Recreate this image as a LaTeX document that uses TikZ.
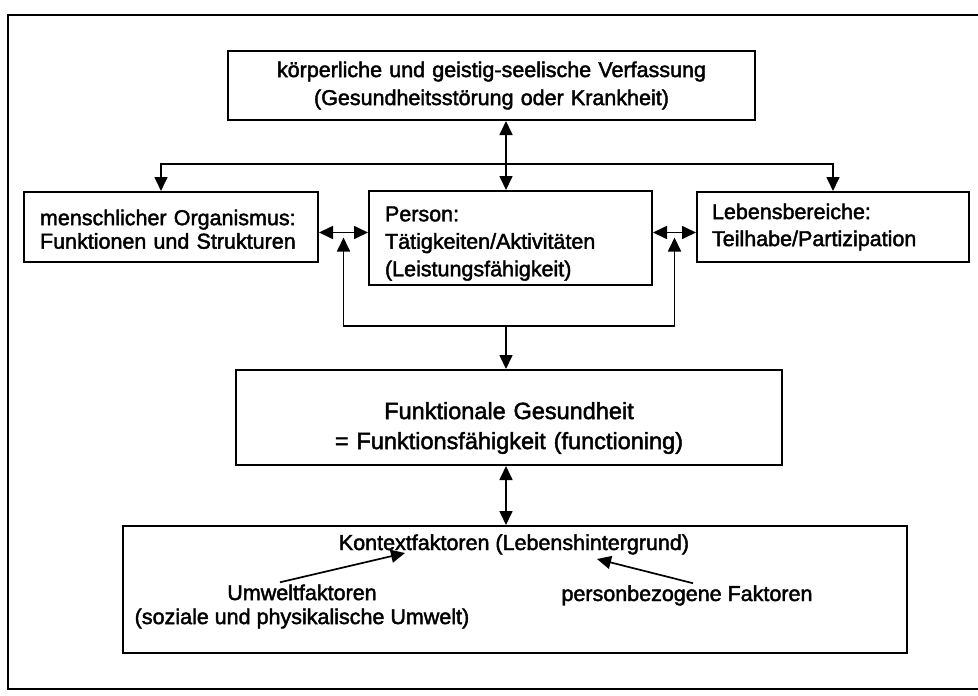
\documentclass[tikz,border=0pt]{standalone}
\usepackage{fontspec}
\setmainfont{Liberation Sans}[FakeBold=2]
\usetikzlibrary{arrows.meta, positioning, calc}
\tikzset{
    sidebox/.style={rectangle, draw=black, line width=2pt, align=left, inner xsep=16pt, minimum height=70pt, font=\fontsize{21.5}{25}\selectfont},
    mainbox/.style={rectangle, draw=black, line width=2pt, align=center, inner xsep=16pt, font=\fontsize{21.5}{28}\selectfont},
    plaintext/.style={inner sep=2pt, font=\fontsize{21.5}{24}\selectfont}
}

\begin{document}
\begin{tikzpicture}[x=1pt, y=-1pt,
  twoway/.style={{Triangle[length=14pt, width=13pt]}-{Triangle[length=14pt, width=13pt]}, line width=1.7pt},
  oneway/.style={-{Triangle[length=14pt, width=13pt]}, line width=1.7pt}]
  \useasboundingbox (0,0) rectangle (978,696);
  \draw[line width=2pt] (8,15) rectangle (992,689);
  \node[sidebox, text width=251pt, minimum height=94pt, font=\fontsize{21.5}{27.5}\selectfont] (person) at (510.5,238) {\rule{0pt}{26pt}Person:\\Tätigkeiten/Aktivitäten\\(Leistungsfähigkeit)};
  \node[sidebox, text width=262pt, font=\fontsize{21.5}{23.5}\selectfont, left=49pt of person, yshift=11pt] (organ) {\rule{0pt}{20pt}menschlicher Organismus:\\Funktionen und Strukturen};
  \node[sidebox, text width=242pt, inner xsep=15pt, font=\fontsize{21.5}{27}\selectfont, right=43pt of person, yshift=11pt] (leben) {Lebensbereiche:\\Teilhabe/Partizipation};
  \node[mainbox, text width=495pt, minimum height=69pt, above=69pt of person, xshift=-19pt] (verf) {körperliche und geistig-seelische Verfassung\\(Gesundheitsstörung oder Krankheit)};
  \node[mainbox, text width=514pt, minimum height=95pt, font=\fontsize{23.5}{30}\selectfont, below=83pt of person, xshift=-1.5pt] (funk) {\rule{0pt}{38pt}Funktionale Gesundheit\\= Funktionsfähigkeit (functioning)};
  \node[rectangle, draw=black, line width=2pt, minimum width=784pt, minimum height=127pt, below=59pt of funk, xshift=6pt] (kontext) {};
  \node[plaintext, anchor=base] (ktitle) at (514,550) {Kontextfaktoren (Lebenshintergrund)};
  \node[plaintext, align=center] (umwelt) at (302,606.5) {Umweltfaktoren\\(soziale und physikalische Umwelt)};
  \node[plaintext, anchor=base] (personfak) at (687,601) {personbezogene Faktoren};
  \coordinate (bus) at (506,164);
  \coordinate (loop) at (506,326);
  \coordinate (gl) at ($(organ.east)!0.5!(person.west)$);
  \coordinate (gr) at ($(person.east)!0.5!(leben.west)$);
  \draw[twoway] (verf.south -| loop) -- (person.north -| loop);
  \draw[twoway] ([xshift=-10pt]organ.north) |- (bus) -| (leben.north);
  \draw[twoway] (organ.east |- gl) -- (person.west |- gl);
  \draw[twoway] (leben.west |- gr) -- (person.east |- gr);
  \draw[twoway] ([yshift=-5pt]gl) |- (loop) -| ([yshift=-5pt]gr);
  \draw[oneway] (loop) -- (funk.north -| loop);
  \draw[twoway] (funk.south -| loop) -- (kontext.north -| loop);
  \draw[oneway] ([xshift=-22pt]umwelt.north) -- ([xshift=-109pt, yshift=-3pt]ktitle.base);
  \draw[oneway] ([xshift=6pt]personfak.north) -- ([xshift=83pt, yshift=-9pt]ktitle.base);
\end{tikzpicture}
\end{document}
